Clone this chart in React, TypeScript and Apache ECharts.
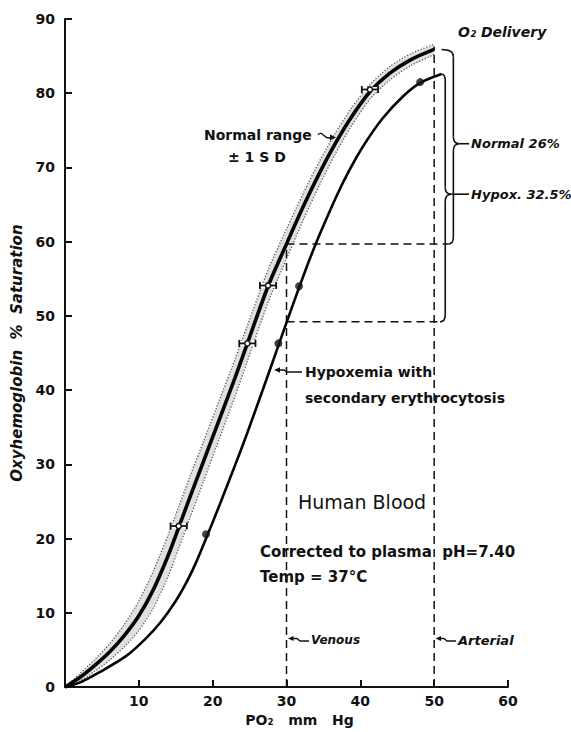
import React, { useEffect, useRef } from "react";
import * as echarts from "echarts";

// ---- axis ----
const xMin = 0, xMax = 60, xStep = 10;
const yMin = 0, yMax = 90, yStep = 10;

// ---- normal curve (mean) ----
const normalPO2 = [0, 2, 4, 6, 8, 10, 12, 14, 15.4, 17, 18.8, 20.5, 23, 24.7, 27.5, 30, 32.3, 34.5, 36.6, 38.8, 41.3, 44, 46.8, 50];
const normalSat = [0, 1.3, 2.9, 4.7, 6.9, 9.6, 13.2, 17.8, 21.5, 25.8, 30.5, 35.0, 41.6, 46.3, 54.0, 59.7, 64.8, 69.3, 73.2, 76.8, 80.2, 82.7, 84.5, 85.9];
// ---- ±1 SD band edges (same PO2 grid) ----
const sdUpperSat = [0, 1.8, 3.7, 5.8, 8.4, 11.6, 15.7, 20.6, 24.3, 28.6, 33.2, 37.6, 44.1, 48.7, 56.2, 61.7, 66.6, 70.9, 74.6, 78.0, 81.2, 83.6, 85.3, 86.6];
const sdLowerSat = [0, 0.8, 2.1, 3.6, 5.4, 7.6, 10.7, 15.0, 18.7, 23.0, 27.8, 32.4, 39.1, 43.9, 51.8, 57.7, 63.0, 67.7, 71.8, 75.6, 79.2, 81.8, 83.7, 85.2];
// ---- normal measured means with horizontal SD bars ----
const normalMeanPO2 = [15.4, 24.7, 27.5, 41.3];
const normalMeanSat = [21.7, 46.3, 54.1, 80.5];
const normalMeanSdPO2 = [1.1, 1.1, 1.1, 1.1];

// ---- hypoxemia with secondary erythrocytosis ----
const hypoxPO2 = [0, 2, 4.5, 8.3, 11, 13, 15, 16.5, 17.8, 19.1, 21, 23, 24.6, 27.2, 28.9, 30, 31.7, 33.2, 34.5, 36.8, 38.5, 40.4, 43, 45.8, 48.1, 51];
const hypoxSat = [0, 0.6, 1.9, 4.2, 6.6, 8.8, 11.6, 14.2, 16.9, 20.0, 24.7, 29.8, 34.0, 41.2, 46.0, 49.1, 53.8, 57.8, 61.0, 66.2, 69.6, 72.9, 76.6, 79.6, 81.4, 82.6];
const hypoxPointPO2 = [19.1, 28.9, 31.7, 48.1];
const hypoxPointSat = [20.6, 46.3, 54.0, 81.5];

// ---- venous / arterial reference lines ----
const venousPO2 = 30;
const arterialPO2 = 50;
const venousSatNormal = 59.7;
const venousSatHypox = 49.2;
const arterialLineTop = 86.3;

// ---- O2 delivery braces ----
const braceLabels = ["Normal 26%", "Hypox. 32.5%"];
const braceTopPO2 = [51.0, 51.0];
const braceTopSat = [85.9, 82.6];
const braceBottomPO2 = [51.9, 50.8];
const braceBottomSat = [59.7, 49.2];
const braceSpinePO2 = [52.6, 51.5];
const braceTipSat = [73.2, 66.4];
const braceLabelPO2 = 55.0;

const INK = "#111";
const FONT = '"DejaVu Sans", "Liberation Sans", sans-serif';

function zip(xs: number[], ys: number[]) {
  return xs.map((x, i) => [x, ys[i]]);
}

export default function App() {
  const ref = useRef<HTMLDivElement>(null);

  useEffect(() => {
    if (!ref.current) return;
    const chart = echarts.init(ref.current, null, { renderer: "svg" });

    const dashed = { color: INK, width: 1.5, type: [8, 5] as number[] };
    const dashSeries = (data: number[][]) => ({
      type: "line",
      data,
      symbol: "none",
      silent: true,
      lineStyle: dashed,
      z: 1,
    });

    const option: any = {
      animation: false,
      backgroundColor: "#fff",
      grid: { left: 65, right: 63, top: 19, bottom: 42 },
      xAxis: {
        type: "value",
        min: xMin,
        max: xMax,
        interval: xStep,
        name: "PO\u2082   mm   Hg",
        nameLocation: "middle",
        nameGap: 25,
        nameTextStyle: { fontFamily: FONT, fontWeight: "bold", fontSize: 14, color: INK, padding: [0, 0, 0, 26] },
        axisLine: { lineStyle: { color: INK, width: 2 } },
        axisTick: { inside: true, length: 7, lineStyle: { color: INK, width: 2 } },
        axisLabel: {
          fontFamily: FONT,
          fontWeight: "bold",
          fontSize: 14,
          color: INK,
          margin: 7,
          formatter: (v: number) => (v === 0 ? "" : String(v)),
        },
        splitLine: { show: false },
      },
      yAxis: {
        type: "value",
        min: yMin,
        max: yMax,
        interval: yStep,
        name: "Oxyhemoglobin  %  Saturation",
        nameLocation: "middle",
        nameGap: 40,
        nameTextStyle: { fontFamily: FONT, fontWeight: "bold", fontStyle: "italic", fontSize: 15, color: INK },
        axisLine: { show: true, lineStyle: { color: INK, width: 2 } },
        axisTick: { show: true, inside: true, length: 7, lineStyle: { color: INK, width: 2 } },
        axisLabel: { fontFamily: FONT, fontWeight: "bold", fontSize: 14, color: INK, margin: 10 },
        splitLine: { show: false },
      },
      series: [
        // SD band
        {
          type: "custom",
          silent: true,
          z: 2,
          data: [[0, 0]],
          renderItem: (_p: any, api: any) => {
            const up = normalPO2.map((x, i) => api.coord([x, sdUpperSat[i]]));
            const lo = normalPO2.map((x, i) => api.coord([x, sdLowerSat[i]]));
            const dotted = { stroke: "#555", lineWidth: 1.3, lineDash: [1.2, 1.8], fill: "none" };
            return {
              type: "group",
              children: [
                { type: "polygon", shape: { points: up.concat(lo.slice().reverse()) }, style: { fill: "rgba(0,0,0,0.12)" } },
                { type: "polyline", shape: { points: up, smooth: 0.25 }, style: dotted },
                { type: "polyline", shape: { points: lo, smooth: 0.25 }, style: dotted },
              ],
            };
          },
        },
        dashSeries([[venousPO2, 0], [venousPO2, venousSatNormal]]),
        dashSeries([[arterialPO2, 0], [arterialPO2, arterialLineTop]]),
        dashSeries([[venousPO2, venousSatNormal], [braceBottomPO2[0], venousSatNormal]]),
        dashSeries([[venousPO2, venousSatHypox], [braceBottomPO2[1], venousSatHypox]]),
        {
          type: "line",
          name: "Normal",
          data: zip(normalPO2, normalSat),
          smooth: 0.3,
          symbol: "none",
          silent: true,
          z: 4,
          lineStyle: { color: "#050505", width: 3.6 },
        },
        {
          type: "line",
          name: "Hypoxemia",
          data: zip(hypoxPO2, hypoxSat),
          smooth: 0.3,
          symbol: "none",
          silent: true,
          z: 4,
          lineStyle: { color: "#050505", width: 2.6 },
        },
        // normal means with SD bars
        {
          type: "custom",
          silent: true,
          z: 6,
          data: zip(normalMeanPO2, normalMeanSat),
          renderItem: (p: any, api: any) => {
            const x = api.value(0);
            const y = api.value(1);
            const sd = normalMeanSdPO2[p.dataIndex];
            const c = api.coord([x, y]);
            const l = api.coord([x - sd, y]);
            const r = api.coord([x + sd, y]);
            const st = { stroke: INK, lineWidth: 1.8 };
            return {
              type: "group",
              children: [
                { type: "rect", shape: { x: l[0], y: c[1] - 2.5, width: r[0] - l[0], height: 5 }, style: { fill: "#fff" } },
                { type: "line", shape: { x1: l[0], y1: c[1], x2: r[0], y2: c[1] }, style: st },
                { type: "line", shape: { x1: l[0], y1: c[1] - 3.5, x2: l[0], y2: c[1] + 3.5 }, style: st },
                { type: "line", shape: { x1: r[0], y1: c[1] - 3.5, x2: r[0], y2: c[1] + 3.5 }, style: st },
                { type: "circle", shape: { cx: c[0], cy: c[1], r: 2.6 }, style: { fill: "#fff", stroke: INK, lineWidth: 1.5 } },
              ],
            };
          },
        },
        // hypoxemia points
        {
          type: "scatter",
          data: zip(hypoxPointPO2, hypoxPointSat),
          symbol: "circle",
          symbolSize: 8,
          silent: true,
          z: 6,
          itemStyle: { color: INK },
        },
        // braces
        {
          type: "custom",
          silent: true,
          z: 5,
          data: zip(braceSpinePO2, braceTipSat),
          renderItem: (p: any, api: any) => {
            const i = p.dataIndex;
            const a = api.coord([braceTopPO2[i], braceTopSat[i]]);
            const b = api.coord([braceBottomPO2[i], braceBottomSat[i]]);
            const vx = api.coord([braceSpinePO2[i], 0])[0];
            const ty = api.coord([0, braceTipSat[i]])[1];
            const lx = api.coord([braceLabelPO2, 0])[0];
            const r = 7;
            const t = 6;
            const st = { stroke: INK, lineWidth: 1.6, fill: "none" };
            return {
              type: "group",
              children: [
                { type: "bezierCurve", shape: { x1: a[0], y1: a[1], cpx1: vx, cpy1: a[1], x2: vx, y2: a[1] + r }, style: st },
                { type: "line", shape: { x1: vx, y1: a[1] + r, x2: vx, y2: ty - r }, style: st },
                { type: "bezierCurve", shape: { x1: vx, y1: ty - r, cpx1: vx, cpy1: ty, x2: vx + t, y2: ty }, style: st },
                { type: "bezierCurve", shape: { x1: vx + t, y1: ty, cpx1: vx, cpy1: ty, x2: vx, y2: ty + r }, style: st },
                { type: "line", shape: { x1: vx, y1: ty + r, x2: vx, y2: b[1] - r }, style: st },
                { type: "bezierCurve", shape: { x1: vx, y1: b[1] - r, cpx1: vx, cpy1: b[1], x2: b[0], y2: b[1] }, style: st },
                { type: "line", shape: { x1: vx + t, y1: ty, x2: lx - 2, y2: ty }, style: st },
                {
                  type: "text",
                  x: lx,
                  y: ty,
                  style: {
                    text: braceLabels[i],
                    fill: INK,
                    fontFamily: FONT,
                    fontStyle: "italic",
                    fontWeight: "bold",
                    fontSize: 13,
                    align: "left",
                    verticalAlign: "middle",
                  },
                },
              ],
            };
          },
        },
      ],
      graphic: [],
    };

    const txt = (text: string, x: number, y: number, size: number, opts: any = {}) => ({
      type: "text",
      x,
      y,
      silent: true,
      style: {
        text,
        fill: INK,
        fontFamily: FONT,
        fontSize: size,
        fontWeight: opts.weight ?? "bold",
        fontStyle: opts.italic ? "italic" : "normal",
        align: "left",
        verticalAlign: "middle",
      },
    });
    const ln = { stroke: INK, lineWidth: 1.3, fill: "none" };
    const head = (pts: number[][]) => ({ type: "polygon", silent: true, shape: { points: pts }, style: { fill: INK } });

    option.graphic = [
      txt("O\u2082 Delivery", 458, 32, 14, { italic: true }),
      txt("Normal range", 204, 135, 14),
      txt("\u00B1 1 S D", 228, 157, 14),
      {
        type: "bezierCurve",
        silent: true,
        shape: { x1: 318, y1: 135, cpx1: 322, cpy1: 129, cpx2: 326, cpy2: 142, x2: 331, y2: 137 },
        style: ln,
      },
      head([[336, 137.5], [330, 134.5], [330, 140.5]]),
      txt("Hypoxemia with", 305, 372, 14),
      txt("secondary erythrocytosis", 305, 398, 14),
      { type: "polyline", silent: true, shape: { points: [[302, 372], [287, 372], [284, 370], [279, 370]] }, style: ln },
      head([[274, 370], [280, 367.3], [280, 372.7]]),
      txt("Human Blood", 298, 502, 19, { weight: "normal" }),
      txt("Corrected to plasma  pH=7.40", 260, 552, 15),
      txt("Temp = 37\u00B0C", 260, 577, 15),
      { type: "polyline", silent: true, shape: { points: [[309, 641], [300, 641], [297, 638.5], [293, 638.5]] }, style: ln },
      head([[288, 638.5], [293.5, 636], [293.5, 641]]),
      txt("Venous", 311, 640, 12, { italic: true }),
      { type: "polyline", silent: true, shape: { points: [[456, 641], [447, 641], [444, 638.5], [440, 638.5]] }, style: ln },
      head([[435.5, 638.5], [441, 636], [441, 641]]),
      txt("Arterial", 458, 640, 13, { italic: true }),
    ];

    chart.setOption(option);
    return () => chart.dispose();
  }, []);

  return (
    <div
      ref={ref}
      style={{ position: "fixed", left: 0, top: 0, width: 571, height: 732, background: "#fff" }}
    />
  );
}
